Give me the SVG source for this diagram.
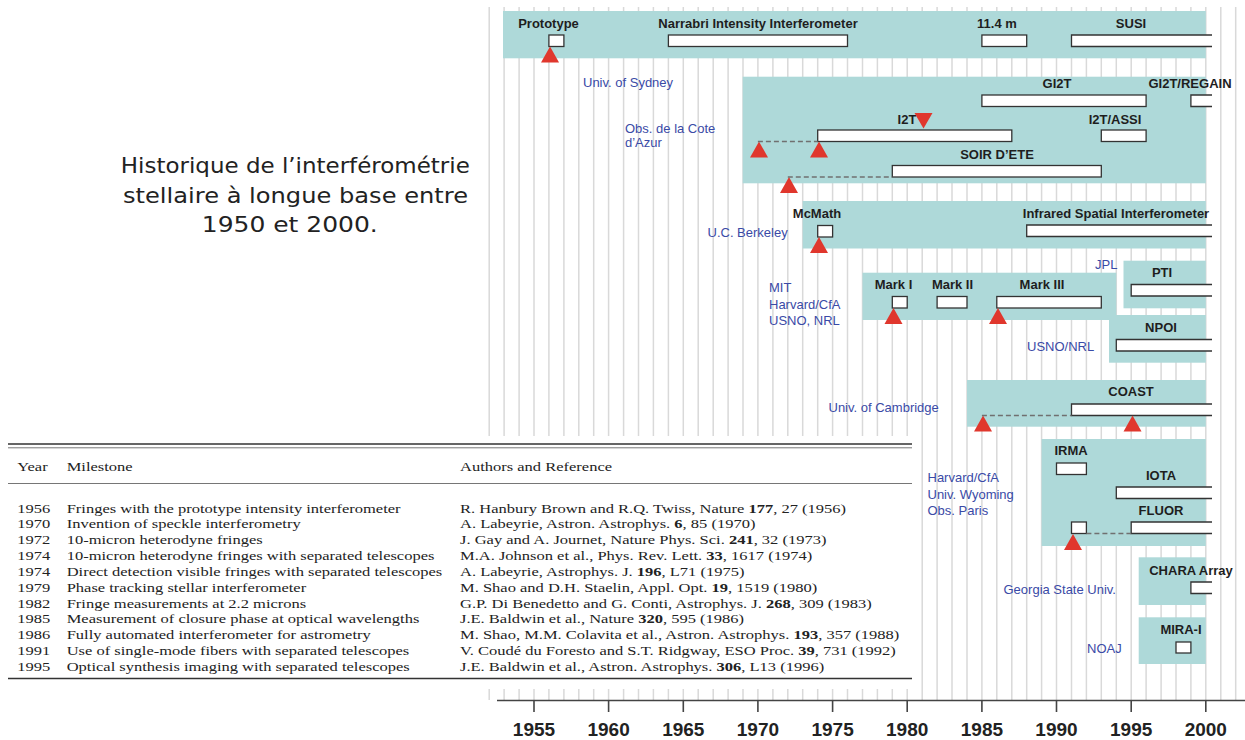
<svg xmlns="http://www.w3.org/2000/svg" width="1245" height="740" viewBox="0 0 1245 740">
<style>
.band{fill:#aed9d9}
.bar{fill:#fff;stroke:#333;stroke-width:1.3}
.bf{fill:#fff}
.bo{fill:none;stroke:#333;stroke-width:1.3}
.tri{fill:#e0372d}
.lbl{font-family:"Liberation Sans",Arial,sans-serif;font-weight:bold;font-size:13px;fill:#1e1e1e;text-anchor:middle}
.org{font-family:"Liberation Sans",Arial,sans-serif;font-size:13px;fill:#3a4aa6}
.dash{stroke:#707070;stroke-width:1.5;stroke-dasharray:5 3;fill:none}
.grid{stroke:#d9d9d9;stroke-width:1.5;fill:none}
.ttl{font-family:"DejaVu Sans","Liberation Sans",sans-serif;font-size:20.5px;fill:#222;text-anchor:middle}
.tb{font-family:"Liberation Serif","Times New Roman",serif;font-size:13px;fill:#222}
.ax{font-family:"Liberation Sans",Arial,sans-serif;font-weight:bold;font-size:19px;fill:#222;text-anchor:middle}
</style>
<rect width="1245" height="740" fill="#fff"/>
<g id="grid">
<path class="grid" d="M489.2 7V700M504.1 7V700M519.1 7V700M534 7V700M548.9 7V700M563.9 7V700M578.8 7V700M593.7 7V700M608.6 7V700M623.6 7V700M638.5 7V700M653.4 7V700M668.4 7V700M683.3 7V700M698.2 7V700M713.2 7V700M728.1 7V700M743 7V700M757.9 7V700M772.9 7V700M787.8 7V700M802.7 7V700M817.7 7V700M832.6 7V700M847.5 7V700M862.5 7V700M877.4 7V700M892.3 7V700M907.2 7V700M922.2 7V700M937.1 7V700M952 7V700M967 7V700M981.9 7V700M996.8 7V700M1011.8 7V700M1026.7 7V700M1041.6 7V700M1056.5 7V700M1071.5 7V700M1086.4 7V700M1101.3 7V700M1116.3 7V700M1131.2 7V700M1146.1 7V700M1161.1 7V700M1176 7V700M1190.9 7V700M1205.8 7V700M1220.8 7V700M1235.7 7V700"/>
</g>
<g id="title">
<text class="ttl" x="295.3" y="173" textLength="349" lengthAdjust="spacingAndGlyphs">Historique de l’interférométrie</text>
<text class="ttl" x="295.5" y="202.5" textLength="345" lengthAdjust="spacingAndGlyphs">stellaire à longue base entre</text>
<text class="ttl" x="289.8" y="232" textLength="176" lengthAdjust="spacingAndGlyphs">1950 et 2000.</text>
</g>
<g id="univ-sydney">
<rect class="band" x="503" y="11" width="702.8" height="47.3"/>
<text class="lbl" x="548.5" y="28">Prototype</text>
<text class="lbl" x="758" y="28">Narrabri Intensity Interferometer</text>
<text class="lbl" x="997" y="28">11.4 m</text>
<text class="lbl" x="1131" y="28">SUSI</text>
<rect class="bar" x="548.9" y="35" width="15" height="11.5"/>
<rect class="bar" x="668.4" y="35" width="179.1" height="11.5"/>
<rect class="bar" x="981.9" y="35" width="44.8" height="11.5"/>
<rect class="bf" x="1071.5" y="35" width="140.5" height="11.5"/><path class="bo" d="M1212 35H1071.5V46.5H1212"/>
<path class="tri" d="M550 46.5L559 62.5H541Z"/>
<text class="org" x="583" y="87">Univ. of Sydney</text>
</g>
<g id="obs-cote-azur">
<rect class="band" x="742.7" y="76.7" width="463.1" height="106.6"/>
<text class="lbl" x="1057" y="87.5">GI2T</text>
<text class="lbl" x="1190" y="87.5">GI2T/REGAIN</text>
<text class="lbl" x="907" y="123.5">I2T</text>
<text class="lbl" x="1115" y="123.5">I2T/ASSI</text>
<text class="lbl" x="997" y="159">SOIR D’ETE</text>
<rect class="bar" x="981.9" y="95" width="164.2" height="11.5"/>
<rect class="bf" x="1190.9" y="95" width="21.1" height="11.5"/><path class="bo" d="M1212 95H1190.9V106.5H1212"/>
<rect class="bar" x="817.7" y="130" width="194.1" height="11.5"/>
<rect class="bar" x="1101.3" y="130" width="44.8" height="11.5"/>
<rect class="bar" x="892.3" y="165.5" width="209" height="11.5"/>
<path class="tri" d="M914.5 113H932.5L923.5 128.5Z"/>
<path class="tri" d="M759 141.5L768 157.5H750Z"/>
<path class="tri" d="M819 141.5L828 157.5H810Z"/>
<path class="tri" d="M789 177L798 193H780Z"/>
<text class="org" x="625" y="133">Obs. de la Cote</text>
<text class="org" x="625" y="147">d’Azur</text>
</g>
<g id="uc-berkeley">
<rect class="band" x="802.7" y="201" width="403.1" height="47.5"/>
<text class="lbl" x="817" y="218">McMath</text>
<text class="lbl" x="1116" y="218">Infrared Spatial Interferometer</text>
<rect class="bar" x="817.7" y="225.5" width="14.9" height="11.5"/>
<rect class="bf" x="1026.7" y="225" width="185.3" height="11.5"/><path class="bo" d="M1212 225H1026.7V236.5H1212"/>
<path class="tri" d="M819 237L828 253H810Z"/>
<text class="org" x="707.5" y="237">U.C. Berkeley</text>
</g>
<g id="mit-harvard-usno">
<rect class="band" x="862.5" y="272.7" width="253.8" height="47.3"/>
<text class="lbl" x="893.5" y="289">Mark I</text>
<text class="lbl" x="952.5" y="289">Mark II</text>
<text class="lbl" x="1042" y="289">Mark III</text>
<rect class="bar" x="892.3" y="296.5" width="14.9" height="11.5"/>
<rect class="bar" x="937.1" y="296.5" width="29.9" height="11.5"/>
<rect class="bar" x="996.8" y="296.5" width="104.5" height="11.5"/>
<path class="tri" d="M893.5 308L902.5 324H884.5Z"/>
<path class="tri" d="M998 308L1007 324H989Z"/>
<text class="org" x="769" y="292">MIT</text>
<text class="org" x="769" y="308.5">Harvard/CfA</text>
<text class="org" x="769" y="325">USNO, NRL</text>
</g>
<g id="jpl-pti">
<rect class="band" x="1123.5" y="260.7" width="82.3" height="47.6"/>
<text class="lbl" x="1162" y="277">PTI</text>
<rect class="bf" x="1131.2" y="284.5" width="80.8" height="11.5"/><path class="bo" d="M1212 284.5H1131.2V296H1212"/>
<text class="org" x="1095" y="269">JPL</text>
</g>
<g id="usno-npoi">
<rect class="band" x="1109" y="315" width="96.8" height="47.7"/>
<text class="lbl" x="1161" y="332">NPOI</text>
<rect class="bf" x="1116.3" y="339.5" width="95.7" height="11.5"/><path class="bo" d="M1212 339.5H1116.3V351H1212"/>
<text class="org" x="1027" y="351">USNO/NRL</text>
</g>
<g id="cambridge-coast">
<rect class="band" x="967" y="380" width="238.8" height="46.7"/>
<text class="lbl" x="1131" y="396">COAST</text>
<rect class="bf" x="1071.5" y="404" width="140.5" height="11.5"/><path class="bo" d="M1212 404H1071.5V415.5H1212"/>
<path class="tri" d="M983 415.5L992 431.5H974Z"/>
<path class="tri" d="M1132.5 415.5L1141.5 431.5H1123.5Z"/>
<text class="org" x="828.5" y="412">Univ. of Cambridge</text>
</g>
<g id="milestones-table">
<rect x="0" y="436" width="916" height="253" fill="#fff"/>
<line x1="8" y1="444" x2="912" y2="444" stroke="#333" stroke-width="1.4"/>
<line x1="8" y1="447.8" x2="912" y2="447.8" stroke="#555" stroke-width="0.8"/>
<line x1="8" y1="483.5" x2="912" y2="483.5" stroke="#666" stroke-width="0.9"/>
<line x1="8" y1="678.5" x2="912" y2="678.5" stroke="#333" stroke-width="1.6"/>
<g class="tb" transform="scale(1.27,1)">
<text x="13.6" y="471">Year</text><text x="52.5" y="471">Milestone</text><text x="362.2" y="471">Authors and Reference</text>
<text x="13.6" y="512.6">1956</text><text x="52.5" y="512.6">Fringes with the prototype intensity interferometer</text><text x="362.2" y="512.6">R. Hanbury Brown and R.Q. Twiss, Nature <tspan font-weight="bold">177</tspan>, 27 (1956)</text>
<text x="13.6" y="528.4">1970</text><text x="52.5" y="528.4">Invention of speckle interferometry</text><text x="362.2" y="528.4">A. Labeyrie, Astron. Astrophys. <tspan font-weight="bold">6</tspan>, 85 (1970)</text>
<text x="13.6" y="544.3">1972</text><text x="52.5" y="544.3">10-micron heterodyne fringes</text><text x="362.2" y="544.3">J. Gay and A. Journet, Nature Phys. Sci. <tspan font-weight="bold">241</tspan>, 32 (1973)</text>
<text x="13.6" y="560.1">1974</text><text x="52.5" y="560.1">10-micron heterodyne fringes with separated telescopes</text><text x="362.2" y="560.1">M.A. Johnson et al., Phys. Rev. Lett. <tspan font-weight="bold">33</tspan>, 1617 (1974)</text>
<text x="13.6" y="576">1974</text><text x="52.5" y="576">Direct detection visible fringes with separated telescopes</text><text x="362.2" y="576">A. Labeyrie, Astrophys. J. <tspan font-weight="bold">196</tspan>, L71 (1975)</text>
<text x="13.6" y="591.8">1979</text><text x="52.5" y="591.8">Phase tracking stellar interferometer</text><text x="362.2" y="591.8">M. Shao and D.H. Staelin, Appl. Opt. <tspan font-weight="bold">19</tspan>, 1519 (1980)</text>
<text x="13.6" y="607.6">1982</text><text x="52.5" y="607.6">Fringe measurements at 2.2 microns</text><text x="362.2" y="607.6">G.P. Di Benedetto and G. Conti, Astrophys. J. <tspan font-weight="bold">268</tspan>, 309 (1983)</text>
<text x="13.6" y="623.5">1985</text><text x="52.5" y="623.5">Measurement of closure phase at optical wavelengths</text><text x="362.2" y="623.5">J.E. Baldwin et al., Nature <tspan font-weight="bold">320</tspan>, 595 (1986)</text>
<text x="13.6" y="639.3">1986</text><text x="52.5" y="639.3">Fully automated interferometer for astrometry</text><text x="362.2" y="639.3">M. Shao, M.M. Colavita et al., Astron. Astrophys. <tspan font-weight="bold">193</tspan>, 357 (1988)</text>
<text x="13.6" y="655.2">1991</text><text x="52.5" y="655.2">Use of single-mode fibers with separated telescopes</text><text x="362.2" y="655.2">V. Coudé du Foresto and S.T. Ridgway, ESO Proc. <tspan font-weight="bold">39</tspan>, 731 (1992)</text>
<text x="13.6" y="671">1995</text><text x="52.5" y="671">Optical synthesis imaging with separated telescopes</text><text x="362.2" y="671">J.E. Baldwin et al., Astron. Astrophys. <tspan font-weight="bold">306</tspan>, L13 (1996)</text>
</g>
</g>
<g id="harvard-wyoming-paris">
<rect class="band" x="1041.6" y="439" width="164.2" height="107"/>
<text class="lbl" x="1071" y="455">IRMA</text>
<text class="lbl" x="1161" y="480">IOTA</text>
<text class="lbl" x="1161" y="515">FLUOR</text>
<rect class="bar" x="1056.5" y="463" width="29.9" height="11.5"/>
<rect class="bf" x="1116.3" y="487" width="95.7" height="11.5"/><path class="bo" d="M1212 487H1116.3V498.5H1212"/>
<rect class="bar" x="1071.5" y="522" width="14.9" height="11.5"/>
<rect class="bf" x="1131.2" y="522" width="80.8" height="11.5"/><path class="bo" d="M1212 522H1131.2V533.5H1212"/>
<path class="tri" d="M1073 534L1082 550H1064Z"/>
<text class="org" x="927.5" y="482">Harvard/CfA</text>
<text class="org" x="927.5" y="498.5">Univ. Wyoming</text>
<text class="org" x="927.5" y="515">Obs. Paris</text>
</g>
<g id="georgia-chara">
<rect class="band" x="1138.7" y="557.3" width="67.1" height="47.7"/>
<text class="lbl" x="1191" y="575">CHARA Array</text>
<rect class="bf" x="1190.9" y="582" width="21.1" height="11.5"/><path class="bo" d="M1212 582H1190.9V593.5H1212"/>
<text class="org" x="1003.5" y="594">Georgia State Univ.</text>
</g>
<g id="noaj-mira">
<rect class="band" x="1138.7" y="617.3" width="67.1" height="46.7"/>
<text class="lbl" x="1181" y="634">MIRA-I</text>
<rect class="bar" x="1176" y="642" width="14.9" height="11"/>
<text class="org" x="1087" y="653">NOAJ</text>
</g>
<g id="connectors">
<path class="dash" d="M757.9 141.5H817.7"/>
<path class="dash" d="M787.8 177H892.3"/>
<path class="dash" d="M981.9 415.5H1071.5"/>
<path class="dash" d="M1086.4 533.5H1131.2"/>
</g>
<g id="axis">
<path d="M497 700.5H1245" stroke="#444" stroke-width="1.6" fill="none"/>
<path d="M534 700.5V712M608.6 700.5V712M683.3 700.5V712M757.9 700.5V712M832.6 700.5V712M907.2 700.5V712M981.9 700.5V712M1056.5 700.5V712M1131.2 700.5V712M1205.8 700.5V712" stroke="#444" stroke-width="1.6" fill="none"/>
<text class="ax" x="534" y="736">1955</text>
<text class="ax" x="608.6" y="736">1960</text>
<text class="ax" x="683.3" y="736">1965</text>
<text class="ax" x="757.9" y="736">1970</text>
<text class="ax" x="832.6" y="736">1975</text>
<text class="ax" x="907.2" y="736">1980</text>
<text class="ax" x="981.9" y="736">1985</text>
<text class="ax" x="1056.5" y="736">1990</text>
<text class="ax" x="1131.2" y="736">1995</text>
<text class="ax" x="1205.8" y="736">2000</text>
</g>
</svg>
